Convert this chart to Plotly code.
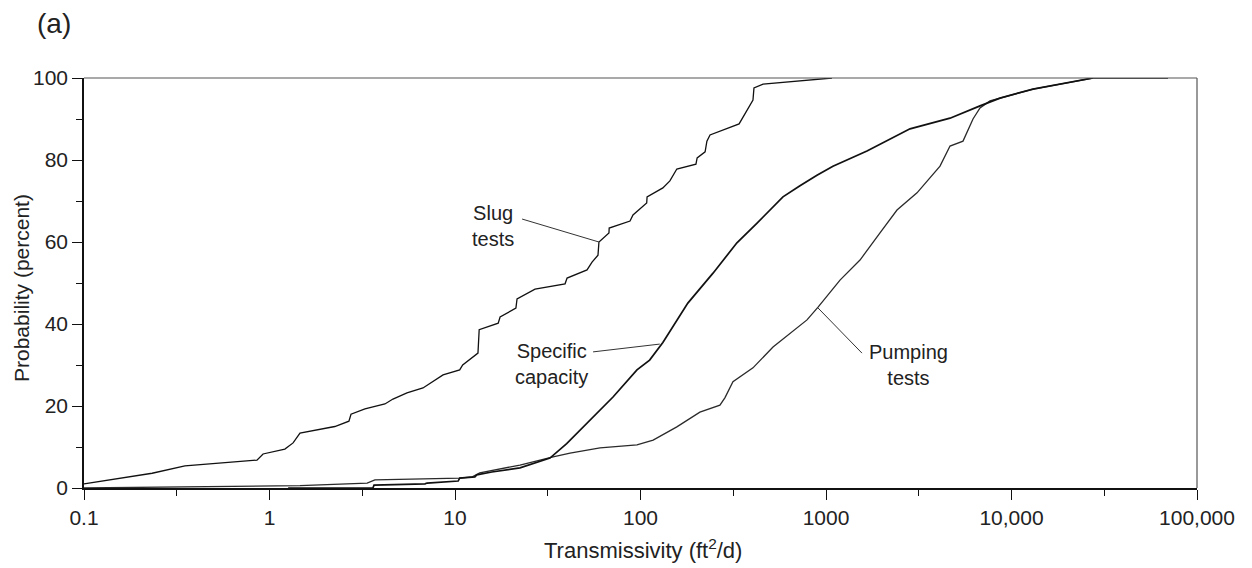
import plotly.graph_objects as go
import numpy as np

# ---------------- data ----------------
slug_T = [0.1, 0.233, 0.350, 0.856, 0.923, 1.21, 1.34, 1.46, 2.25, 2.68, 2.75, 3.27,
          4.19, 4.63, 5.51, 6.72, 8.62, 10.6, 11.0, 13.3, 13.5, 17.1, 17.5, 21.3, 21.6,
          27.0, 39.2, 40.2, 51.5, 54.8, 59.0, 59.7, 67.6, 67.8, 87.8, 91.1, 108, 108.5,
          132, 144, 157, 199, 202, 223, 228, 237, 340, 375, 404, 409, 458, 1077]
slug_P = [1.0, 3.6, 5.4, 6.8, 8.3, 9.5, 11.0, 13.4, 15.0, 16.3, 18.0, 19.3,
          20.5, 21.7, 23.2, 24.4, 27.6, 28.8, 30.0, 32.9, 38.6, 40.2, 41.7, 43.9, 46.1,
          48.5, 49.8, 51.2, 53.2, 55.1, 56.8, 60.0, 62.2, 63.4, 65.1, 66.6, 69.5, 71.0,
          73.2, 74.9, 77.8, 79.0, 80.5, 82.0, 84.6, 86.1, 88.8, 92.2, 94.6, 97.6, 98.5, 100.0]

spec_T = [1.26, 3.61, 3.66, 6.89, 7.07, 10.4, 10.6, 12.8, 13.1, 15.8, 22.4, 32.5, 40.0,
          51.5, 71.1, 95.7, 112, 132, 180, 246, 331, 425, 586, 724, 894, 1090, 1663,
          2837, 4662, 6765, 8670, 13060, 19920, 27510, 69800]
spec_P = [0.0, 0.0, 0.7, 1.0, 1.2, 1.7, 2.4, 2.7, 3.2, 3.9, 4.9, 7.3, 10.8,
          15.9, 22.2, 28.8, 31.2, 35.5, 45.1, 52.4, 59.8, 64.6, 71.0, 73.7, 76.3, 78.5, 82.2,
          87.6, 90.2, 93.2, 95.1, 97.3, 98.8, 100.0, 100.0]

pump_T = [0.1, 0.422, 1.46, 3.36, 3.70, 10.6, 12.4, 13.6, 17.5, 22.4, 33.8, 41.7,
          60.5, 95.7, 117, 157, 209, 268, 285, 315, 404, 518, 790, 906, 1190, 1525,
          1955, 2414, 3095, 4118, 4662, 5478, 6201, 6765, 7659, 8670, 13060, 19920, 27510]
pump_P = [0.0, 0.3, 0.6, 1.2, 2.0, 2.4, 2.7, 3.7, 4.6, 5.6, 7.6, 8.5,
          9.8, 10.5, 11.7, 14.9, 18.5, 20.2, 22.0, 25.9, 29.3, 34.4, 41.0, 44.1, 50.7, 55.6,
          62.2, 67.8, 72.0, 78.5, 83.4, 84.6, 90.0, 92.7, 94.4, 95.1, 97.3, 98.8, 100.0]

x_tickvals = [0.1, 1, 10, 100, 1000, 10000, 100000]
x_ticktext = ["0.1", "1", "10", "100", "1000", "10,000", "100,000"]
x_minor = [0.316, 3.16, 31.6, 316, 3162, 31623]
y_tickvals = [0, 20, 40, 60, 80, 100]
y_minor = [10, 30, 50, 70, 90]

# labels: (text, x, y, leader from (T,P) to (T,P))
labels = [
    ("Slug<br>tests", 16.0, 63.9, (23.0, 65.6), (59.7, 60.0)),
    ("Specific<br>capacity", 33.3, 30.2, (55.5, 33.2), (127, 35.1)),
    ("Pumping<br>tests", 2770, 30.0, (906, 43.9), (1563, 32.9)),
]

FONT = "Liberation Sans, Arial, Helvetica, sans-serif"
TXT = "#222222"

fig = go.Figure()
fig.add_trace(go.Scatter(x=pump_T, y=pump_P, mode="lines",
                         line=dict(color="#2a2a2a", width=1.3), name="Pumping tests"))
fig.add_trace(go.Scatter(x=spec_T, y=spec_P, mode="lines",
                         line=dict(color="#111111", width=1.7), name="Specific capacity"))
fig.add_trace(go.Scatter(x=slug_T, y=slug_P, mode="lines",
                         line=dict(color="#111111", width=1.3), name="Slug tests"))

for text, tx, ty, p0, p1 in labels:
    fig.add_annotation(x=np.log10(tx), y=ty, xref="x", yref="y", text=text,
                       showarrow=False, align="center", xanchor="center", yanchor="middle",
                       font=dict(family=FONT, size=20, color=TXT))
    fig.add_shape(type="line", xref="x", yref="y", x0=p0[0], y0=p0[1], x1=p1[0], y1=p1[1],
                  line=dict(color="#333333", width=1))

# top and right frame lines
fig.add_shape(type="line", xref="paper", yref="paper", x0=0, y0=1, x1=1, y1=1,
              line=dict(color="#555555", width=1.2))
fig.add_shape(type="line", xref="paper", yref="paper", x0=1, y0=0, x1=1, y1=1,
              line=dict(color="#555555", width=1.2))

fig.add_annotation(x=(54 - 84) / 1113, y=1 + (78 - 24) / 410, xref="paper", yref="paper",
                   xanchor="center", yanchor="middle",
                   text="(a)", showarrow=False, font=dict(family=FONT, size=28, color=TXT))
fig.add_annotation(x=(643 - 84) / 1113, y=-(549 - 488) / 410, xref="paper", yref="paper",
                   xanchor="center", yanchor="middle",
                   text="Transmissivity (ft<sup>2</sup>/d)", showarrow=False,
                   font=dict(family=FONT, size=22, color=TXT))
fig.add_annotation(x=-(84 - 21) / 1113, y=(488 - 288) / 410, xref="paper", yref="paper",
                   xanchor="center", yanchor="middle",
                   text="Probability (percent)", showarrow=False, textangle=-90,
                   font=dict(family=FONT, size=21, color=TXT))

fig.update_layout(
    width=1252, height=568,
    margin=dict(l=84, r=55, t=78, b=80),
    paper_bgcolor="white", plot_bgcolor="white",
    showlegend=False,
    font=dict(family=FONT, size=21, color=TXT),
)
fig.update_xaxes(type="log", range=[-1, 5], tickvals=x_tickvals, ticktext=x_ticktext,
                 ticks="outside", ticklen=10, tickwidth=1.2, tickcolor="#111",
                 showline=True, linecolor="#111", linewidth=1.6,
                 showgrid=False, zeroline=False,
                 minor=dict(tickvals=x_minor, ticks="outside", ticklen=6, tickwidth=1.2,
                            tickcolor="#111", showgrid=False),
                 tickfont=dict(family=FONT, size=21, color=TXT))
fig.update_yaxes(range=[0, 100], tickvals=y_tickvals,
                 ticks="outside", ticklen=10, tickwidth=1.2, tickcolor="#111",
                 showline=True, linecolor="#111", linewidth=1.6,
                 showgrid=False, zeroline=False,
                 minor=dict(tickvals=y_minor, ticks="outside", ticklen=6, tickwidth=1.2,
                            tickcolor="#111", showgrid=False),
                 tickfont=dict(family=FONT, size=21, color=TXT))

fig.write_html("out.html")
